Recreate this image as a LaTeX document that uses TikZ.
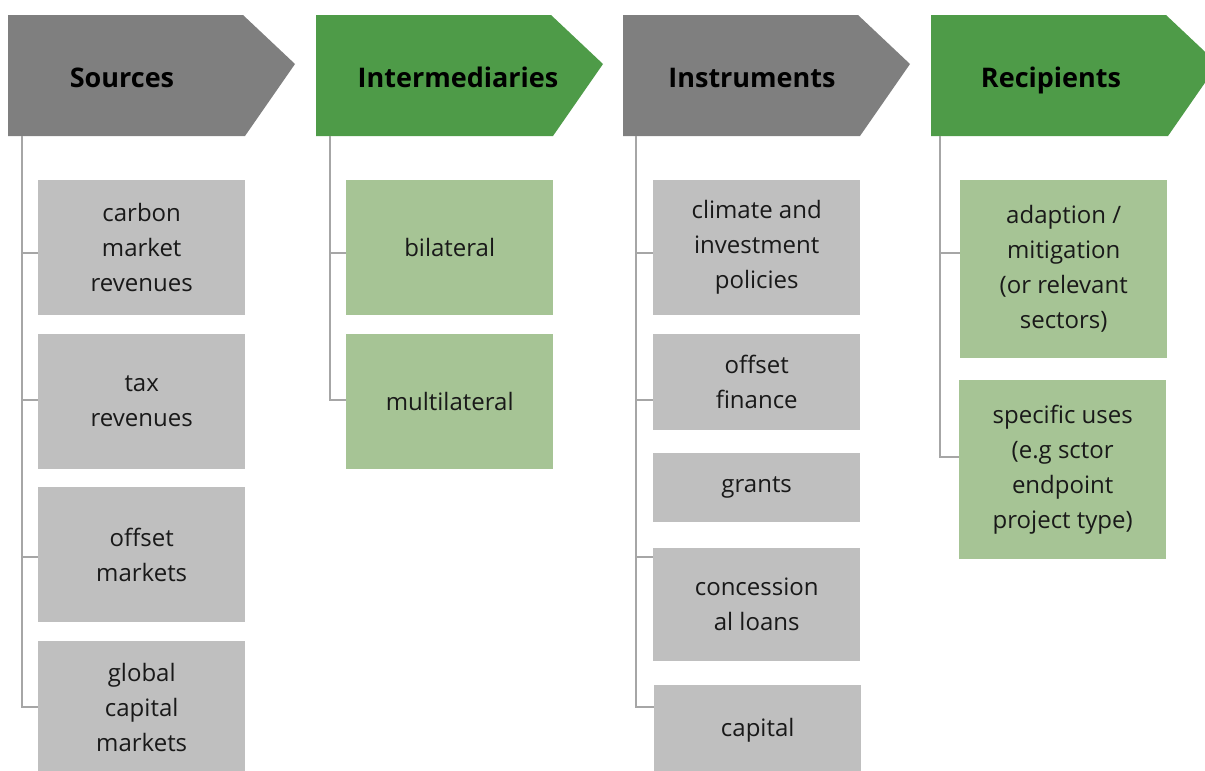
\documentclass[tikz,border=0pt]{standalone}
\usepackage{fontspec}
\setmainfont{Open Sans}
\usetikzlibrary{positioning}

\definecolor{headgray}{HTML}{7F7F7F}
\definecolor{headgreen}{HTML}{4E9B48}
\definecolor{boxgray}{HTML}{BFBFBF}
\definecolor{boxgreen}{HTML}{A6C495}
\definecolor{linegray}{HTML}{A6A6A6}

% chevron header: left x, colour
\newcommand{\chevhead}[2]{\fill[#2] (#1,15) -- ++(235,0) -- ++(52,49) -- ++(-50,72) -- (#1,136) -- cycle;}

\begin{document}
\begin{tikzpicture}[x=1pt,y=-1pt,
    head/.style={anchor=base, inner sep=0pt, font=\fontsize{27}{32}\selectfont\bfseries},
    box/.style={anchor=north west, minimum width=207pt, inner sep=0pt, align=center,
                text=black!90, font=\fontsize{24}{35}\selectfont},
    graybox/.style={box, fill=boxgray},
    greenbox/.style={box, fill=boxgreen},
    branch/.style={draw=linegray, line width=1.3pt}]
    \clip (0,0) rectangle (1205,771);

    % headers
    \chevhead{8}{headgray}
    \chevhead{316}{headgreen}
    \chevhead{623}{headgray}
    \chevhead{931}{headgreen}
    \node[head] (hsrc) at (122,87) {Sources};
    \node[head] (hint) at (458,87) {Intermediaries};
    \node[head] (hins) at (752,87) {Instruments};
    \node[head] (hrec) at (1051,87) {Recipients};

    % sources
    \node[graybox, minimum height=135pt] (src1) at (38,180) {carbon\\market\\revenues};
    \node[graybox, minimum height=135pt] (src2) at (38,334) {tax\\revenues};
    \node[graybox, minimum height=135pt] (src3) at (38,487) {offset\\markets};
    \node[graybox, minimum height=132pt] (src4) at (38,641) {global\\capital\\markets};

    % intermediaries
    \node[greenbox, minimum height=135pt] (int1) at (346,180) {bilateral};
    \node[greenbox, minimum height=135pt] (int2) at (346,334) {multilateral};

    % instruments
    \node[graybox, minimum height=135pt] (ins1) at (653,180) {climate and\\investment\\policies};
    \node[graybox, minimum height=96pt] (ins2) at (653,334) {offset\\finance};
    \node[graybox, minimum height=69pt] (ins3) at (653,453) {grants};
    \node[graybox, minimum height=113pt] (ins4) at (653,548) {concession\\al loans};
    \node[graybox, minimum height=90pt] (ins5) at (654,685) {capital};

    % recipients
    \node[greenbox, minimum height=178pt] (rec1) at (960,180) {adaption /\\mitigation\\(or relevant\\sectors)};
    \node[greenbox, minimum height=179pt] (rec2) at (959,380) {specific uses\\(e.g sctor\\endpoint\\project type)};

    % tree lines
    \coordinate (srcTop) at (22,136);
    \coordinate (intTop) at (330,136);
    \coordinate (insTop) at (636,136);
    \coordinate (recTop) at (940,136);
    \coordinate (lv1) at (0,253);
    \coordinate (lv2) at (0,400);
    \coordinate (lv3) at (0,557);
    \coordinate (lv4) at (0,707);
    \coordinate (lvr) at (0,457);

    \draw[branch] (srcTop) |- (src4.west |- lv4);
    \foreach \b/\l in {src1/lv1, src2/lv2, src3/lv3}
        \draw[branch] (srcTop |- \l) -- (\b.west |- \l);
    \draw[branch] (intTop) |- (int2.west |- lv2);
    \draw[branch] (intTop |- lv1) -- (int1.west |- lv1);
    \draw[branch] (insTop) |- (ins5.west |- lv4);
    \foreach \b/\l in {ins1/lv1, ins2/lv2, ins4/lv3}
        \draw[branch] (insTop |- \l) -- (\b.west |- \l);
    \draw[branch] (recTop) |- (rec2.west |- lvr);
    \draw[branch] (recTop |- lv1) -- (rec1.west |- lv1);
\end{tikzpicture}
\end{document}
